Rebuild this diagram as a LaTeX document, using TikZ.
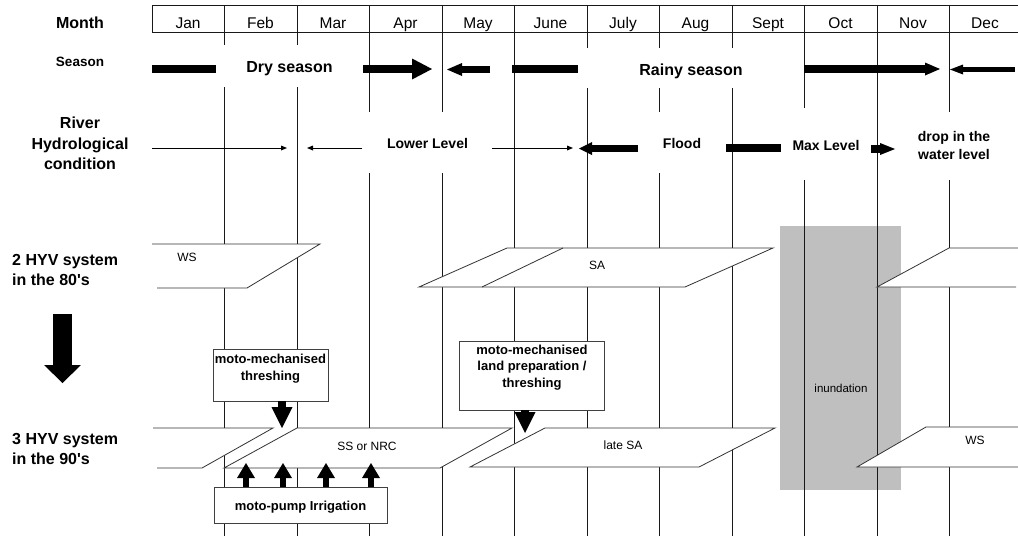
\documentclass[tikz,border=0pt]{standalone}
\usepackage{fontspec}
\setmainfont{Liberation Sans}
\usetikzlibrary{arrows.meta}
\begin{document}
\begin{tikzpicture}[x=1pt,y=-1pt,
  vline/.style={line width=1pt, black!90},
  outl/.style={line width=0.8pt, black!80},
  mon/.style={anchor=base, inner sep=0pt, font=\fontsize{15.5}{18}\selectfont},
  lbl/.style={anchor=base, inner sep=0pt, font=\fontsize{16}{19}\selectfont\bfseries},
  lblw/.style={anchor=base west, inner sep=0pt, font=\fontsize{16}{19}\selectfont\bfseries},
  midtxt/.style={anchor=base, inner sep=0pt, font=\fontsize{14}{17}\selectfont\bfseries},
  croptxt/.style={anchor=base, inner sep=0pt, font=\fontsize{12}{14}\selectfont},
  actbox/.style={draw=black!75, line width=0.8pt, fill=white, inner sep=0pt},
  acttxt/.style={anchor=base, inner sep=0pt, font=\fontsize{13}{16}\selectfont\bfseries},
  thinarr/.style={line width=0.9pt, -{Triangle[width=5pt,length=6pt,line width=0pt]}},
  tbar/.style={line width=8pt},
  trianglearr/.style={line width=8pt, -{Triangle[width=21pt,length=21pt,line width=0pt]}},
  uparr/.style={line width=6pt, -{Triangle[width=18pt,length=15pt,line width=0pt]}},
]
\useasboundingbox (0,0) rectangle (1018,536);
\fill[white] (0,0) rectangle (1018,536);

% inundation period
\node[fill=black!25, minimum width=121pt, minimum height=264pt, inner sep=0pt] (inund) at (840.5,358) {};

% month grid
\foreach \x in {224,297,369,442,514,587,659,732,804,877,949}
  \draw[vline] (\x,5) -- (\x,536);
\draw[vline] (1018,5) -- (152,5) -- (152,32) -- (1018,32);
\foreach \m/\x in {Jan/188,Feb/260.5,Mar/333,Apr/405.5,May/478,June/550.5,July/623,Aug/695.5,Sept/768,Oct/840.5,Nov/913,Dec/985}
  \node[mon] (m-\m) at (\x,28) {\m};

% white backgrounds behind row texts
\fill[white] (217,45) rectangle (362,87);
\fill[white] (579,48) rectangle (802,88);
\fill[white] (363,112) rectangle (491,173);
\fill[white] (639,112) rectangle (725,173);
\fill[white] (782,108) rectangle (870,180);
\fill[white] (897,112) rectangle (1016,180);

% left labels
\node[lbl] (lmonth) at (80,28) {Month};
\node[anchor=base, inner sep=0pt, font=\fontsize{13.5}{16}\selectfont\bfseries] (lseason) at (80,66) {Season};
\node[lbl] (lriver1) at (80,128) {River};
\node[lbl] (lriver2) at (80,149) {Hydrological};
\node[lbl] (lriver3) at (80,169) {condition};
\node[lblw] (l80a) at (12,265) {2 HYV system};
\node[lblw] (l80b) at (12,285) {in the 80\textquotesingle s};
\node[lblw] (l90a) at (12,444) {3 HYV system};
\node[lblw] (l90b) at (12,464) {in the 90\textquotesingle s};
\draw[line width=19pt, -{Triangle[width=37pt,length=18pt,line width=0pt]}] (62.5,314) -- (62.5,383);

% season row
\node[lbl] (dry) at (289.5,72) {Dry season};
\node[lbl] (rainy) at (691,75) {Rainy season};
\draw[tbar] (152,69) -- (216,69);
\draw[line width=8pt, -{Triangle[width=21pt,length=20pt,line width=0pt]}] (363,69) -- (432,69);
\draw[line width=7pt, -{Triangle[width=13pt,length=15pt,line width=0pt]}] (490,69.5) -- (447,69.5);
\draw[tbar] (512,69) -- (578,69);
\draw[line width=8pt, -{Triangle[width=13pt,length=15pt,line width=0pt]}] (804,69) -- (940,69);
\draw[line width=5pt, -{Triangle[width=10pt,length=13pt,line width=0pt]}] (1015,69.5) -- (950,69.5);

% hydrological row
\node[midtxt] (lower) at (427.5,148) {Lower Level};
\node[midtxt] (flood) at (682,148) {Flood};
\node[midtxt] (maxl) at (826,150) {Max Level};
\node[midtxt] (drop1) at (954,141) {drop in the};
\node[midtxt] (drop2) at (954,159) {water level};
\draw[thinarr] (152,148) -- (287,148);
\draw[thinarr] (362,148) -- (307,148);
\draw[thinarr] (492,148) -- (573,148);
\draw[line width=7pt, -{Triangle[width=13pt,length=13pt,line width=0pt]}] (638,148.5) -- (579,148.5);
\draw[tbar] (726,148) -- (781,148);
\draw[line width=8pt, -{Triangle[width=12pt,length=15pt,line width=0pt]}] (871,149) -- (895,149);

% 2 HYV system in the 80's
\fill[white] (152,244) -- (320,244) -- (247,288) -- (157,288) -- cycle;
\draw[outl] (152,244) -- (320,244) -- (247,288) -- (157,288);
\node[croptxt] (ws80) at (187,261) {WS};
\filldraw[outl, fill=white] (419,287) -- (507,248) -- (773,248) -- (685,287) -- cycle;
\draw[outl] (482,287) -- (563,248);
\node[croptxt] (sa80) at (597,269.5) {SA};
\fill[white] (877,287) -- (949,248) -- (1018,248) -- (1018,287) -- cycle;
\draw[outl] (1018,248) -- (949,248) -- (877,287) -- (1016,287);

% 3 HYV system in the 90's
\fill[white] (153,428) -- (273,428) -- (202,468) -- (157,468) -- cycle;
\draw[outl] (153,428) -- (273,428) -- (202,468) -- (157,468);
\filldraw[outl, fill=white] (297,428) -- (512,428) -- (440,468) -- (224,468) -- cycle;
\node[croptxt] (ss) at (367,450) {SS or NRC};
\filldraw[outl, fill=white] (545,428) -- (775,428) -- (699,467) -- (470,467) -- cycle;
\node[croptxt] (latesa) at (623,449) {late SA};
\fill[white] (926,427) -- (1018,427) -- (1018,467) -- (857,467) -- cycle;
\draw[outl] (1018,427) -- (926,427) -- (857,467) -- (1018,467);
\node[croptxt] (ws90) at (975,444) {WS};

\node[anchor=base, inner sep=0pt, font=\fontsize{11.5}{14}\selectfont] (inundtxt) at (841,392) {inundation};

% activity boxes
\node[actbox, minimum width=115pt, minimum height=52pt] (thresh) at (270.5,375) {};
\node[acttxt] (thresh1) at (270.5,363) {moto-mechanised};
\node[acttxt] (thresh2) at (270.5,380) {threshing};
\node[actbox, minimum width=145pt, minimum height=69pt] (landprep) at (531.5,375.5) {};
\node[acttxt] (land1) at (532,354) {moto-mechanised};
\node[acttxt] (land2) at (532,370) {land preparation /};
\node[acttxt] (land3) at (532,387) {threshing};
\node[actbox, minimum width=173pt, minimum height=36pt] (pump) at (300.5,505) {};
\node[acttxt] (pumptxt) at (300.5,510) {moto-pump Irrigation};

% connectors
\coordinate (t1) at (282,428);
\coordinate (t2) at (525,433);
\draw[trianglearr] (thresh.south -| t1) -- (t1);
\draw[trianglearr] (landprep.south -| t2) -- (t2);
\foreach \i/\x in {1/246,2/283,3/326,4/371} {
  \coordinate (u\i) at (\x,463);
  \draw[uparr] (pump.north -| u\i) -- (u\i);
}
\end{tikzpicture}
\end{document}
